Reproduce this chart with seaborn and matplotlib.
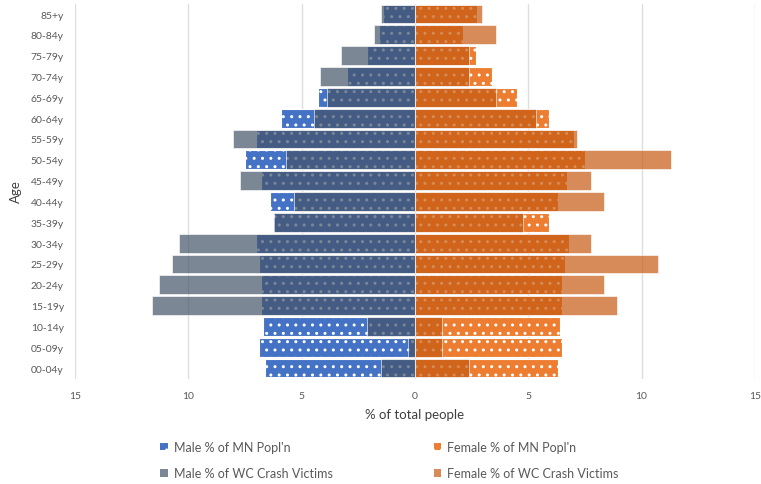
import numpy as np
import pandas as pd
import matplotlib.pyplot as plt
import seaborn as sns
from matplotlib.patches import Patch

# ---- data, top row first ----
ages = ['85+y', '80-84y', '75-79y', '70-74y', '65-69y', '60-64y', '55-59y',
        '50-54y', '45-49y', '40-44y', '35-39y', '30-34y', '25-29y', '20-24y',
        '15-19y', '10-14y', '05-09y', '00-04y']

male_popl    = [1.4, 1.6, 2.1, 3.0, 4.3, 5.9, 7.0, 7.5, 6.8, 6.4, 6.25, 7.0,
                6.9, 6.8, 6.8, 6.7, 6.9, 6.6]
male_crash   = [1.49, 1.79, 3.27, 4.17, 3.88, 4.45, 8.03, 5.67, 7.73, 5.36, 6.2, 10.43,
                10.72, 11.31, 11.6, 2.1, 0.3, 1.49]
female_popl  = [2.72, 2.1, 2.71, 3.4, 4.5, 5.9, 7.0, 7.5, 6.7, 6.3, 5.9, 6.8,
                6.6, 6.5, 6.5, 6.4, 6.5, 6.3]
female_crash = [2.97, 3.59, 2.38, 2.38, 3.59, 5.36, 7.15, 11.3, 7.75, 8.35, 4.78, 7.75,
                10.72, 8.35, 8.93, 1.2, 1.2, 2.38]

xticks = [-15, -10, -5, 0, 5, 10, 15]
xticklabels = ['15', '10', '5', '0', '5', '10', '15']

# colours
c_male_popl = '#4472C4'
c_male_crash = '#44546A'
c_fem_popl = '#ED7D31'
c_fem_crash = '#C55A11'

sns.set_theme(style='white')
plt.rcParams['font.family'] = ['Lato', 'DejaVu Sans']
plt.rcParams['hatch.linewidth'] = 1.0

df = pd.DataFrame({
    'age': ages,
    'male_popl': -np.array(male_popl),
    'male_crash': -np.array(male_crash),
    'female_popl': female_popl,
    'female_crash': female_crash,
})

fig = plt.figure(figsize=(7.61, 4.85), dpi=100)
ax = fig.add_axes([0.0986, 0.2175, 0.8934, 0.773])

# population bars first (dotted), crash-victim bars on top, semi-transparent
sns.barplot(data=df, x='male_popl', y='age', order=ages, orient='h', color=c_male_popl,
            saturation=1, width=0.9, edgecolor='white', linewidth=0.8, hatch='..', ax=ax)
sns.barplot(data=df, x='female_popl', y='age', order=ages, orient='h', color=c_fem_popl,
            saturation=1, width=0.9, edgecolor='white', linewidth=0.8, hatch='..', ax=ax)
sns.barplot(data=df, x='male_crash', y='age', order=ages, orient='h', color=c_male_crash,
            saturation=1, width=0.9, edgecolor='white', linewidth=0.6, alpha=0.7, ax=ax)
sns.barplot(data=df, x='female_crash', y='age', order=ages, orient='h', color=c_fem_crash,
            saturation=1, width=0.9, edgecolor='white', linewidth=0.6, alpha=0.7, ax=ax)

ax.set_xlim(-15, 15)
ax.set_ylim(len(ages) - 0.5, -0.5)
ax.set_xticks(xticks)
ax.set_xticklabels(xticklabels)
ax.grid(axis='x', color='#DEDEDE', linewidth=1)
ax.grid(axis='y', visible=False)
ax.set_axisbelow(True)
for s in ax.spines.values():
    s.set_visible(False)
ax.tick_params(axis='both', length=0, labelsize=7.5, colors='#595959')
ax.tick_params(axis='y', pad=8)
ax.tick_params(axis='x', pad=9)
ax.set_xlabel('% of total people', fontsize=9.5, color='#404040', labelpad=6)
ax.set_ylabel('Age', fontsize=9.5, color='#404040', labelpad=6)

# legend: two columns placed separately
def handle(color, hatch=None, alpha=1.0):
    return Patch(facecolor=color, edgecolor='white', hatch=hatch, alpha=alpha, linewidth=0)

leg_kw = dict(frameon=False, fontsize=9, handlelength=0.6, handleheight=0.6,
              handletextpad=0.5, labelspacing=1.15, labelcolor='#595959', loc='upper left')
leg1 = fig.legend([handle(c_male_popl, '..'), handle(c_male_crash, alpha=0.7)],
                  ["Male % of MN Popl'n", 'Male % of WC Crash Victims'],
                  bbox_to_anchor=(0.196, 0.112), **leg_kw)
leg2 = fig.legend([handle(c_fem_popl, '..'), handle(c_fem_crash, alpha=0.7)],
                  ["Female % of MN Popl'n", 'Female % of WC Crash Victims'],
                  bbox_to_anchor=(0.555, 0.112), **leg_kw)

fig.savefig('out.png', dpi=100)
